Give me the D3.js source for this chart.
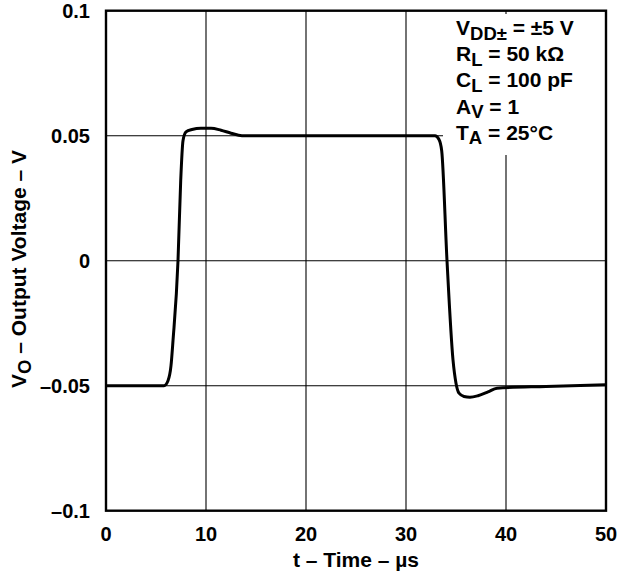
<!DOCTYPE html>
<html><head><meta charset="utf-8">
<script src="https://cdn.jsdelivr.net/npm/d3@7"></script>
<style>body{margin:0;background:#fff}svg{display:block}text{font-family:"Liberation Sans",Arial,sans-serif;font-weight:bold;fill:#000}</style>
</head><body>
<script>
const times = [0, 5.8, 6.2, 6.5, 6.7, 7.2, 7.47, 7.7, 8.0, 8.6, 9.5, 10.5, 11.5, 12.5, 13.6, 32.9, 33.3, 33.57, 34.1, 34.7, 35.0, 35.3, 35.8, 36.4, 37.2, 38.2, 39.1, 44, 50];
const volts = [-0.05, -0.05, -0.048, -0.042, -0.032, 0, 0.032, 0.048, 0.0515, 0.0525, 0.053, 0.053, 0.0522, 0.051, 0.05, 0.05, 0.0485, 0.044, 0, -0.0397, -0.049, -0.053, -0.0543, -0.0546, -0.054, -0.0525, -0.051, -0.0503, -0.0496];
const xTicks = [0, 10, 20, 30, 40, 50];
const yTicks = [0.1, 0.05, 0, -0.05, -0.1];
const yTickLabels = ["0.1", "0.05", "0", "–0.05", "–0.1"];

const W = 618, H = 579;
const L = 106, R = 606, T = 10.7, B = 510.7;
const svg = d3.select("body").append("svg").attr("width", W).attr("height", H);
const x = d3.scaleLinear().domain([0, 50]).range([L, R]);
const y = d3.scaleLinear().domain([-0.1, 0.1]).range([B, T]);

// grid
const g = svg.append("g");
g.selectAll(".vg").data(xTicks.slice(1, -1)).join("line")
  .attr("x1", d => x(d)).attr("x2", d => x(d)).attr("y1", T).attr("y2", B)
  .attr("stroke", "#000").attr("stroke-width", 1.1);
g.selectAll(".hg").data(yTicks.slice(1, -1)).join("line")
  .attr("x1", L).attr("x2", R).attr("y1", d => y(d)).attr("y2", d => y(d))
  .attr("stroke", "#000").attr("stroke-width", 1.1);

// legend background box hides grid
svg.append("rect").attr("x", 443).attr("y", 14).attr("width", R - 443).attr("height", 141).attr("fill", "#fff");

// curve
const line = d3.line().x((d, i) => x(times[i])).y((d, i) => y(volts[i])).curve(d3.curveMonotoneX);
svg.append("path").attr("d", line(volts)).attr("fill", "none").attr("stroke", "#000").attr("stroke-width", 3).attr("stroke-linejoin", "round");

// frame
svg.append("rect").attr("x", L).attr("y", T).attr("width", R - L).attr("height", B - T)
  .attr("fill", "none").attr("stroke", "#000").attr("stroke-width", 2.4);

// ticks
svg.selectAll(".xt").data(xTicks).join("text")
  .attr("x", d => x(d)).attr("y", 541).attr("text-anchor", "middle").attr("font-size", 20).text(d => d);
svg.selectAll(".yt").data(yTicks).join("text")
  .attr("x", 90).attr("y", d => y(d)).attr("dy", "0.38em").attr("text-anchor", "end").attr("font-size", 20)
  .text((d, i) => yTickLabels[i]);

// axis titles
svg.append("text").attr("x", (L + R) / 2).attr("y", 567).attr("text-anchor", "middle").attr("font-size", 21)
  .text("t – Time – µs");
const yl = svg.append("text").attr("transform", `translate(26,269) rotate(-90)`)
  .attr("text-anchor", "middle").attr("font-size", 21);
yl.append("tspan").text("V");
yl.append("tspan").attr("font-size", 18.5).attr("dy", 4.5).text("O");
yl.append("tspan").attr("dy", -4.5).text(" – Output Voltage – V");

// legend
const leg = [
  ["V", "DD±", " = ±5 V"],
  ["R", "L", " = 50 kΩ"],
  ["C", "L", " = 100 pF"],
  ["A", "V", " = 1"],
  ["T", "A", " = 25°C"]
];
const lg = svg.append("g");
leg.forEach((row, i) => {
  const t = lg.append("text").attr("x", 456).attr("y", 35 + i * 26.2).attr("font-size", 21);
  t.append("tspan").text(row[0]);
  t.append("tspan").attr("font-size", 18.5).attr("dy", 4.5).text(row[1]);
  t.append("tspan").attr("dy", -4.5).text(row[2]);
});
</script>
</body></html>
